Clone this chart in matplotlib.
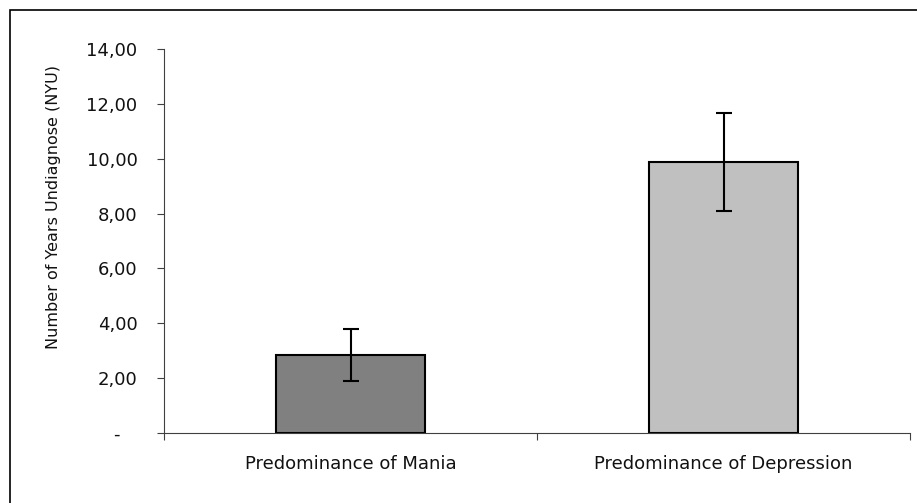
import numpy as np
import matplotlib.pyplot as plt
from matplotlib.patches import Rectangle
from matplotlib.ticker import FixedLocator, FuncFormatter

plt.rcParams['font.family'] = ['DejaVu Sans']

# Data
categories = ['Predominance of Mania', 'Predominance of Depression']
means = [2.85, 9.89]
errors = [0.95, 1.79]
bar_colors = ['#808080', '#c0c0c0']

fig = plt.figure(figsize=(9.17, 5.03), dpi=100)
ax = fig.add_axes([164 / 917, 1 - 433 / 503, 746 / 917, 384 / 503])

x = np.arange(len(categories))
ax.bar(x, means, width=0.4, color=bar_colors, edgecolor='black', linewidth=1.5, zorder=2)
ax.errorbar(x, means, yerr=errors, fmt='none', ecolor='black', elinewidth=1.5,
            capsize=5.8, capthick=1.5, zorder=3)

ax.set_xlim(-0.5, len(categories) - 0.5)
ax.set_ylim(0, 14)
ax.set_yticks(np.arange(0, 15, 2))


def yfmt(v, pos):
    # accounting style: zero shown as a dash, decimal comma
    if v == 0:
        return '-   '
    return f'{v:.2f}'.replace('.', ',')


ax.yaxis.set_major_formatter(FuncFormatter(yfmt))
ax.set_xticks(x)
ax.set_xticklabels(categories)
ax.xaxis.set_minor_locator(FixedLocator(np.arange(-0.5, len(categories), 1.0)))
ax.tick_params(axis='x', which='major', length=0, pad=16, labelsize=13, labelcolor='#111111')
ax.tick_params(axis='x', which='minor', length=5, width=0.8, color='#404040')
ax.tick_params(axis='y', length=5, width=0.8, color='#404040', pad=14, labelsize=13,
               labelcolor='#111111')

for s in ['top', 'right']:
    ax.spines[s].set_visible(False)
for s in ['left', 'bottom']:
    ax.spines[s].set_color('#404040')
    ax.spines[s].set_linewidth(0.8)

ax.set_ylabel('Number of Years Undiagnose (NYU)', fontsize=11.5, color='#111111')
ax.yaxis.set_label_coords(-0.138, (433 - 207) / 384)

# outer chart frame
fig.patches.append(Rectangle((9.5 / 917, -0.02), 1.0, 1 - 9.5 / 503 + 0.02,
                             transform=fig.transFigure, fill=False,
                             edgecolor='black', linewidth=1.2))

fig.savefig('out.png', dpi=100)
